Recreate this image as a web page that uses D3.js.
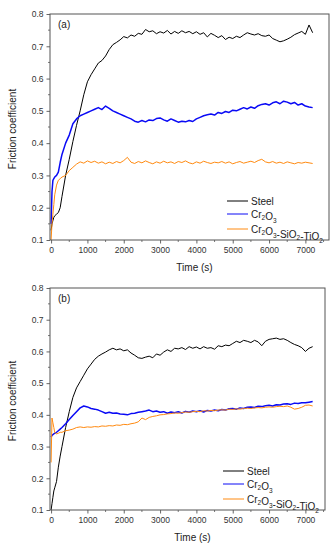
<!DOCTYPE html>
<meta charset="utf-8">
<script src="https://d3js.org/d3.v7.min.js"></script>
<style>
	body{
		margin:0;
		background:#fff;
		font-family: 'Liberation Sans', Arial, sans-serif;
	}
	svg text{
		fill:#222;
	}
</style>
<div id="chart"></div>
<script>

// time axis shared by all series (s)
var time = [0,25,50,75,100,150,200,250,300,400,500,600,700,800,900,1000,1100,1200,1300,1400,1500,1600,1700,1800,1900,2000,2100,2200,2300,2400,2500,2600,2700,2800,2900,3000,3100,3200,3300,3400,3500,3600,3700,3800,3900,4000,4100,4200,4300,4400,4500,4600,4700,4800,4900,5000,5100,5200,5300,5400,5500,5600,5700,5800,5900,6000,6100,6200,6300,6400,6500,6600,6700,6800,6900,7000,7100,7200]

var seriesNames = ["Steel","Cr2O3","Cr2O3-SiO2-TiO2"]
var seriesColors = ["#000000","#0a0af5","#ff8a10"]

// panel (a)
var steelA = [0.13,0.15,0.16,0.17,0.175,0.18,0.185,0.20,0.235,0.30,0.35,0.405,0.455,0.50,0.55,0.59,0.612,0.63,0.648,0.656,0.67,0.69,0.705,0.712,0.72,0.73,0.726,0.735,0.731,0.74,0.737,0.752,0.745,0.748,0.739,0.745,0.741,0.749,0.738,0.746,0.74,0.748,0.742,0.746,0.739,0.745,0.737,0.742,0.729,0.74,0.734,0.727,0.733,0.721,0.728,0.724,0.731,0.727,0.735,0.742,0.738,0.735,0.739,0.733,0.731,0.735,0.724,0.719,0.714,0.717,0.722,0.728,0.736,0.741,0.746,0.737,0.766,0.742]
var cr2o3A = [0.15,0.25,0.285,0.29,0.295,0.30,0.31,0.34,0.365,0.40,0.425,0.46,0.475,0.485,0.49,0.495,0.50,0.505,0.51,0.504,0.515,0.508,0.50,0.495,0.49,0.485,0.48,0.475,0.468,0.465,0.47,0.466,0.472,0.47,0.476,0.478,0.472,0.468,0.475,0.47,0.465,0.468,0.466,0.47,0.467,0.475,0.48,0.485,0.488,0.49,0.487,0.495,0.492,0.498,0.495,0.502,0.50,0.505,0.51,0.506,0.512,0.508,0.516,0.52,0.522,0.518,0.525,0.528,0.522,0.53,0.527,0.522,0.526,0.518,0.522,0.515,0.512,0.51]
var coatA = [0.10,0.15,0.18,0.21,0.24,0.27,0.285,0.29,0.295,0.30,0.315,0.325,0.335,0.342,0.338,0.345,0.34,0.344,0.338,0.342,0.336,0.341,0.337,0.343,0.339,0.346,0.356,0.341,0.337,0.343,0.339,0.345,0.34,0.336,0.342,0.338,0.344,0.339,0.342,0.337,0.343,0.34,0.345,0.339,0.336,0.342,0.338,0.344,0.34,0.337,0.341,0.339,0.343,0.338,0.342,0.336,0.34,0.343,0.338,0.341,0.344,0.34,0.346,0.35,0.342,0.339,0.343,0.338,0.341,0.337,0.342,0.339,0.336,0.34,0.338,0.341,0.339,0.337]

// panel (b)
var steelB = [0.10,0.12,0.14,0.16,0.17,0.19,0.235,0.27,0.30,0.36,0.41,0.455,0.485,0.505,0.525,0.545,0.56,0.575,0.585,0.592,0.598,0.605,0.61,0.605,0.608,0.602,0.605,0.595,0.588,0.58,0.578,0.582,0.585,0.58,0.592,0.588,0.598,0.605,0.60,0.61,0.608,0.612,0.606,0.615,0.61,0.614,0.608,0.615,0.61,0.612,0.607,0.618,0.615,0.62,0.618,0.625,0.632,0.628,0.635,0.632,0.628,0.635,0.63,0.618,0.632,0.638,0.64,0.642,0.638,0.64,0.635,0.628,0.622,0.618,0.612,0.60,0.61,0.615]
var cr2o3B = [0.33,0.335,0.338,0.34,0.342,0.345,0.35,0.355,0.36,0.372,0.385,0.398,0.41,0.422,0.428,0.425,0.42,0.418,0.415,0.41,0.405,0.408,0.405,0.406,0.403,0.402,0.40,0.404,0.405,0.408,0.41,0.412,0.415,0.41,0.412,0.408,0.41,0.405,0.409,0.407,0.41,0.406,0.411,0.408,0.412,0.41,0.413,0.409,0.414,0.412,0.415,0.413,0.417,0.415,0.419,0.42,0.418,0.422,0.42,0.424,0.425,0.423,0.427,0.426,0.429,0.43,0.428,0.432,0.431,0.434,0.435,0.433,0.437,0.436,0.438,0.438,0.44,0.442]
var coatB = [0.25,0.39,0.375,0.36,0.345,0.34,0.342,0.345,0.345,0.35,0.352,0.355,0.36,0.362,0.36,0.362,0.361,0.363,0.362,0.365,0.364,0.366,0.365,0.368,0.367,0.37,0.369,0.372,0.374,0.378,0.39,0.385,0.392,0.395,0.397,0.40,0.401,0.403,0.404,0.406,0.405,0.407,0.409,0.408,0.41,0.411,0.41,0.413,0.412,0.414,0.413,0.415,0.416,0.415,0.418,0.417,0.419,0.418,0.42,0.421,0.42,0.422,0.423,0.422,0.424,0.425,0.424,0.426,0.427,0.426,0.428,0.424,0.418,0.42,0.424,0.43,0.431,0.428]

var yTicks = [0.1,0.2,0.3,0.4,0.5,0.6,0.7,0.8]
var xTicks = [0,1000,2000,3000,4000,5000,6000,7000]

var W = 331, H = 550
var svg = d3.select("#chart").append("svg").attr("width",W).attr("height",H)

drawPanel({label:"(a)", top:14, bottom:240, left:50, right:329, xMax:7650, series:[steelA,cr2o3A,coatA]})
drawPanel({label:"(b)", top:288, bottom:510, left:50, right:325, xMax:7540, series:[steelB,cr2o3B,coatB]})

function drawPanel(p){
	var x = d3.scaleLinear().domain([-30,p.xMax]).range([p.left,p.right])
	var y = d3.scaleLinear().domain([0.1,0.8]).range([p.bottom,p.top])
	var g = svg.append("g")
	var axisColor = "#555"

	// minor ticks
	var xMinor = d3.range(500,7600,1000).filter(function(v){return v<p.xMax})
	var yMinor = d3.range(0.15,0.8,0.1)
	g.selectAll(".xm").data(xMinor).join("line")
		.attr("x1",function(d){return x(d)}).attr("x2",function(d){return x(d)})
		.attr("y1",p.bottom).attr("y2",p.bottom+2)
		.attr("stroke",axisColor).attr("stroke-width",0.8)
	g.selectAll(".ym").data(yMinor).join("line")
		.attr("y1",function(d){return y(d)}).attr("y2",function(d){return y(d)})
		.attr("x1",p.left).attr("x2",p.left-2)
		.attr("stroke",axisColor).attr("stroke-width",0.8)

	var xAxis = g.append("g").attr("transform","translate(0,"+p.bottom+")")
		.call(d3.axisBottom(x).tickValues(xTicks).tickFormat(d3.format("d")).tickSize(3.5).tickSizeOuter(0).tickPadding(3))
	var yAxis = g.append("g").attr("transform","translate("+p.left+",0)")
		.call(d3.axisLeft(y).tickValues(yTicks).tickFormat(d3.format(".1f")).tickSize(3.5).tickSizeOuter(0).tickPadding(3))
	;[xAxis,yAxis].forEach(function(a){
		a.select(".domain").remove()
		a.selectAll("line").attr("stroke",axisColor).attr("stroke-width",0.9)
		a.selectAll("text").attr("font-size","8.5px").attr("font-family","'Liberation Sans', Arial, sans-serif").style("fill","#333")
	})

	// series lines
	p.series.forEach(function(vals,i){
		var pts = time.map(function(t,j){return [t,vals[j]]})
		g.append("path")
			.datum(pts)
			.attr("fill","none")
			.attr("stroke",seriesColors[i])
			.attr("stroke-width",i==1?1.5:1)
			.attr("stroke-linejoin","round")
			.attr("d",d3.line().x(function(d){return x(d[0])}).y(function(d){return y(d[1])}))
	})

	// frame
	g.append("rect")
		.attr("x",p.left).attr("y",p.top)
		.attr("width",p.right-p.left).attr("height",p.bottom-p.top)
		.attr("fill","none").attr("stroke",axisColor).attr("stroke-width",1)

	g.append("text").attr("x",p.left+8).attr("y",p.top+14)
		.attr("font-size","10px").text(p.label)

	g.append("text").attr("x",(p.left+p.right)/2+5).attr("y",p.bottom+31)
		.attr("text-anchor","middle").attr("font-size","10px").text("Time (s)")

	g.append("text")
		.attr("transform","translate(16,"+((p.top+p.bottom)/2+2)+") rotate(-90)")
		.attr("text-anchor","middle").attr("font-size","10px").text("Friction coefficient")

	// legend
	var rows = [-39,-26,-11]
	seriesNames.forEach(function(name,i){
		var ly = p.bottom+rows[i]
		g.append("line").attr("x1",p.right-102).attr("x2",p.right-81)
			.attr("y1",ly).attr("y2",ly).attr("stroke",seriesColors[i]).attr("stroke-width",1)
		var t = g.append("text").attr("x",p.right-78).attr("y",ly+3.5).attr("font-size","10px")
		// split chemical formula so digits become subscripts
		name.split(/(\d)/).forEach(function(part){
			if(part==="") return
			if(/\d/.test(part)){
				t.append("tspan").attr("font-size","6.5px").attr("dy",2.5).text(part)
				t.append("tspan").attr("dy",-2.5).text("")
			}else{
				t.append("tspan").text(part)
			}
		})
	})
}

</script>
